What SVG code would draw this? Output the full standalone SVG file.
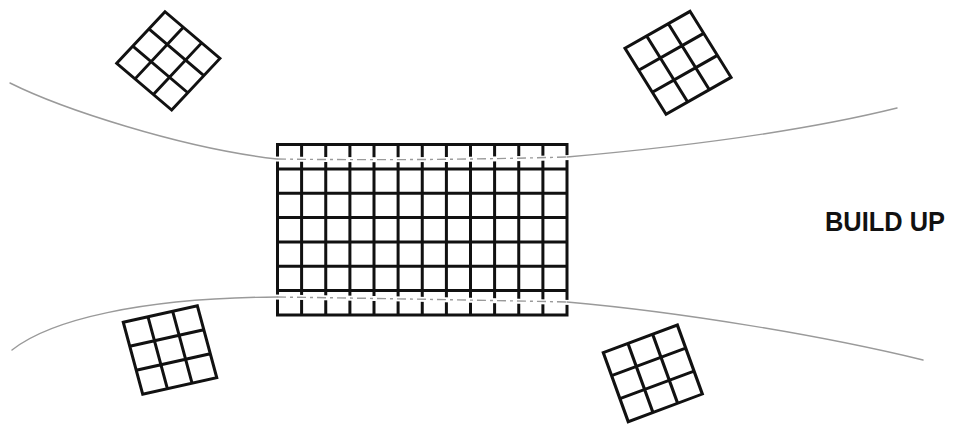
<svg xmlns="http://www.w3.org/2000/svg" xmlns:xlink="http://www.w3.org/1999/xlink" width="957" height="424" viewBox="0 0 957 424">
  <style>
    .grid { fill: none; stroke: #111; stroke-width: 3; stroke-linecap: square; }
    .small { fill: none; stroke: #111; stroke-width: 3; vector-effect: non-scaling-stroke; stroke-linejoin: miter; }
    .halo { fill: none; stroke: #fff; stroke-width: 5; }
    .pencil { fill: none; stroke: #9a9a9a; stroke-width: 1.4; stroke-linecap: round; }
    .pencil-in { fill: none; stroke: #9a9a9a; stroke-width: 1.4; stroke-dasharray: 9 4 3 4; }
    .label { font-family: "Liberation Sans", Arial, sans-serif; font-weight: bold; font-size: 28px; fill: #111; }
  </style>
  <defs>
    <path id="g3" d="M0,0 H75 V75 H0 Z M25,0 V75 M50,0 V75 M0,25 H75 M0,50 H75"/>
  </defs>
  <rect width="957" height="424" fill="#fff"/>

  <g id="block">
    <path class="grid" d="M277.5,144.5 H567 V315 H277.5 Z
      M301.6,144.5 V315 M325.75,144.5 V315 M349.9,144.5 V315 M374,144.5 V315 M398.1,144.5 V315 M422.25,144.5 V315
      M446.4,144.5 V315 M470.5,144.5 V315 M494.6,144.5 V315 M518.75,144.5 V315 M542.9,144.5 V315
      M277.5,168.9 H567 M277.5,193.2 H567 M277.5,217.6 H567 M277.5,241.9 H567 M277.5,266.3 H567 M277.5,290.6 H567"/>
  </g>

  <g id="unit-top-left" transform="matrix(0.644,-0.688,0.733,0.623,116.7,63.3)">
    <use xlink:href="#g3" href="#g3" class="small"/>
  </g>
  <g id="unit-top-right" transform="matrix(0.867,-0.493,0.547,0.88,625,48.3)">
    <use xlink:href="#g3" href="#g3" class="small"/>
  </g>
  <g id="unit-bottom-left" transform="matrix(0.987,-0.221,0.259,0.96,123.3,322.3)">
    <use xlink:href="#g3" href="#g3" class="small"/>
  </g>
  <g id="unit-bottom-right" transform="matrix(0.987,-0.369,0.333,0.92,603.3,352.7)">
    <use xlink:href="#g3" href="#g3" class="small"/>
  </g>

  <g id="connectors">
    <path class="halo" d="M272,159 Q422,161 572,157.5"/>
    <path class="halo" d="M272,297 Q422,299 572,302.5"/>
    <path class="pencil" d="M10,83 C60,108 180,148 277,159"/>
    <path class="pencil-in" d="M277,159 Q422,161 567,157"/>
    <path class="pencil" d="M567,157 C680,147 800,132 897,108"/>
    <path class="pencil" d="M12,350 C50,320 140,298 277,297"/>
    <path class="pencil-in" d="M277,297 Q422,299 567,302"/>
    <path class="pencil" d="M567,302 C680,312 820,335 923,360"/>
  </g>

  <g id="label-build-up">
    <text class="label" x="825" y="230.5" textLength="120" lengthAdjust="spacingAndGlyphs">BUILD UP</text>
  </g>
</svg>
